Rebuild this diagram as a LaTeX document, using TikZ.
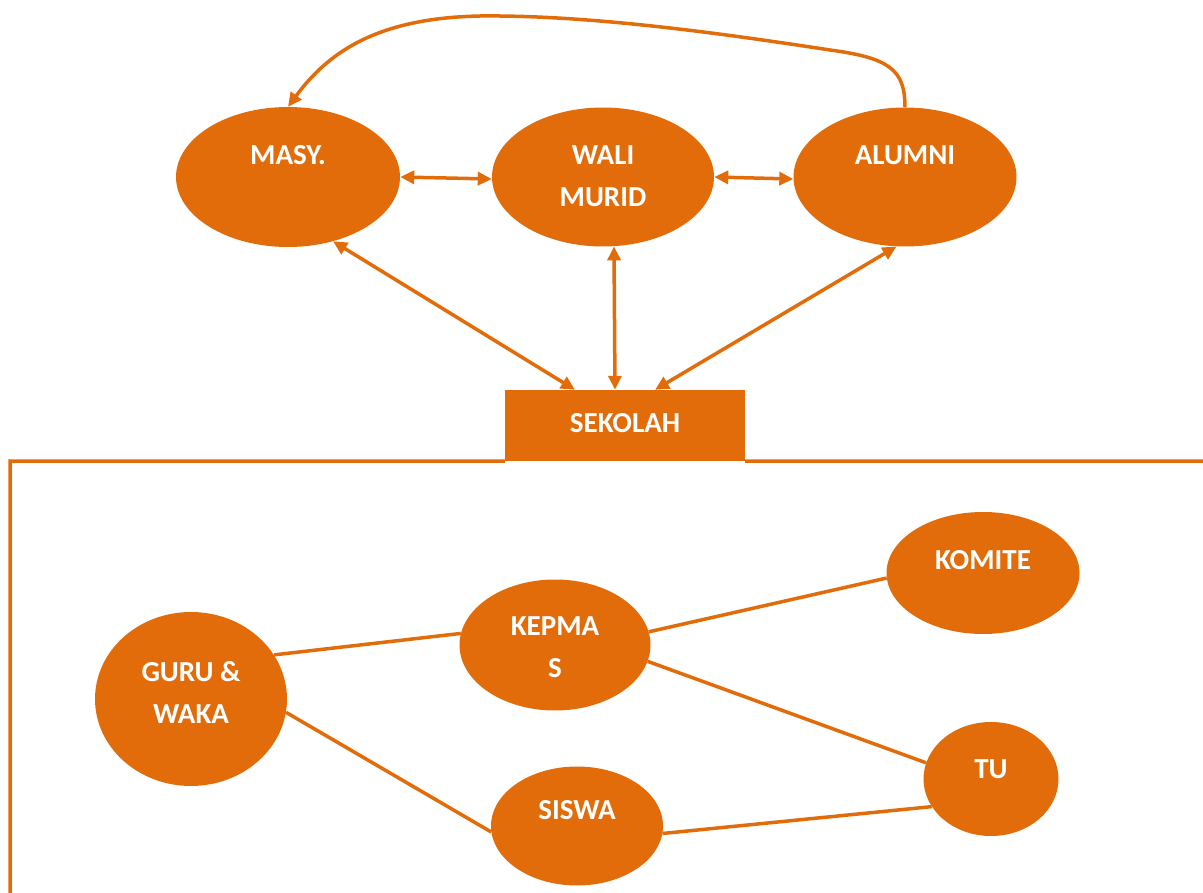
\documentclass[tikz,border=0pt]{standalone}
\usepackage{fontspec}
\setmainfont{Carlito}
\usetikzlibrary{shapes.geometric,arrows.meta,calc}
\definecolor{org}{HTML}{E36C0A}
\begin{document}
\begin{tikzpicture}[x=1pt,y=-1pt,
  blob/.style={ellipse,fill=org,draw=none,inner sep=0pt},
  lbl/.style={text=white,font=\bfseries\fontsize{29}{42}\selectfont,align=center,inner sep=0pt,anchor=base},
  conn/.style={draw=org,line width=3.5pt},
  biarrow/.style={conn,{Triangle[length=14pt,width=13pt]}-{Triangle[length=14pt,width=13pt]}},
  onearrow/.style={conn,-{Triangle[length=14pt,width=13pt]}}]
\useasboundingbox (0,0) rectangle (1203,893);
% top ellipses
\node[blob,minimum width=224pt,minimum height=140pt] (masy) at (288,177) {};
\node[blob,minimum width=222pt,minimum height=139pt] (wali) at (603,177) {};
\node[blob,minimum width=223pt,minimum height=139pt] (alumni) at (905,177) {};
\node[lbl] (masyT) at (288,165) {MASY.};
\node[lbl] (waliT) at (603,207) {WALI\\MURID};
\node[lbl] (alumniT) at (905,165) {ALUMNI};
% sekolah
\node[fill=org,minimum width=240pt,minimum height=71pt,inner sep=0pt] (sek) at (625,425.5) {};
\node[lbl] (sekT) at (625,432) {SEKOLAH};
% frame
\draw[conn] (sek.south west) -- (10,461) -- (10,893);
\draw[conn] (sek.south east) -- (1203,461);
% arrows
\draw[biarrow] (masy.east) -- ($(wali.west)+(0,2)$);
\draw[biarrow] (wali.east) -- ($(alumni.west)+(0,2)$);
\draw[biarrow] (masy.-55) -- ($(sek.north)+(-50,0)$);
\draw[biarrow] (wali.-81) -- ($(sek.north)+(-10,0)$);
\draw[biarrow] (alumni.-97) -- ($(sek.north)+(30,0)$);
\draw[onearrow] (alumni.north) .. controls (905,70) and (890,58) .. (830,50)
  .. controls (700,30) and (580,15) .. (480,16)
  .. controls (380,18) and (330,50) .. (masy.north);
% bottom ellipses
\node[blob,minimum width=193pt,minimum height=122pt] (komite) at (983,573) {};
\node[blob,minimum width=191pt,minimum height=131pt] (kepmas) at (555,645) {};
\node[blob,minimum width=192pt,minimum height=174pt] (guru) at (191,699) {};
\node[blob,minimum width=135pt,minimum height=114pt] (tu) at (991,779) {};
\node[blob,minimum width=172pt,minimum height=119pt] (siswa) at (577,826) {};
\node[lbl] (komiteT) at (983,569) {KOMITE};
\node[lbl] (kepmasT) at (555,677) {KEPMA\\S};
\node[lbl] (guruT) at (191,723) {GURU \&\\WAKA};
\node[lbl] (tuT) at (991,778) {TU};
\node[lbl] (siswaT) at (577,819) {SISWA};
% connectors
\draw[conn] (guru.28) -- (kepmas.173);
\draw[conn] (guru.-8) -- (siswa.184);
\draw[conn] (kepmas.8) -- (komite.183);
\draw[conn] (kepmas.-10) -- (tu.166);
\draw[conn] (siswa.-5) -- (tu.205);
\end{tikzpicture}
\end{document}
